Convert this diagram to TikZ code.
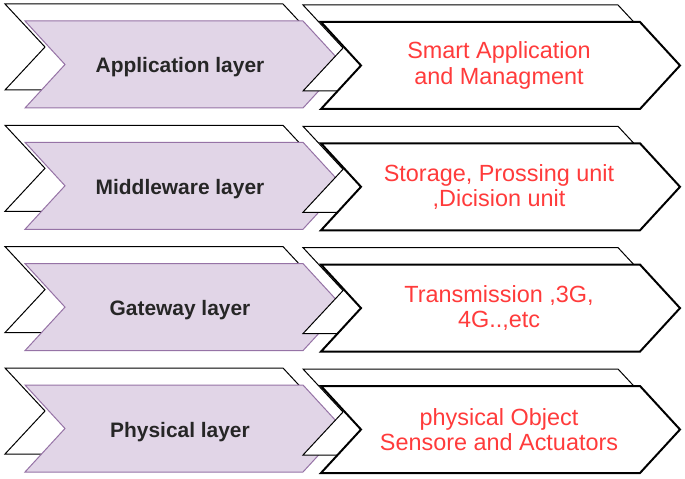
\documentclass[tikz,border=0pt]{standalone}
\usepackage{fontspec}
\setmainfont{Liberation Sans}
\definecolor{pfill}{HTML}{E1D5E7}
\definecolor{pdraw}{HTML}{9673A6}
\definecolor{rtext}{HTML}{FF3B3B}
\definecolor{ltext}{HTML}{262626}
\tikzset{
  backchev/.style={draw=black, line width=1bp, fill=white},
  purplechev/.style={draw=pdraw, line width=1bp, fill=pfill},
  frontchev/.style={draw=black, line width=2bp, fill=white},
  layertext/.style={font=\bfseries\fontsize{21}{25}\selectfont, text=ltext, anchor=base, inner sep=0pt},
  desctext/.style={font=\fontsize{23.5}{25.5}\selectfont, text=rtext, align=center, inner sep=0pt}
}
\newcommand\layerrow[4]{%
  \draw[backchev] (5,{#2+4}) -- (283,{#2+4}) -- (323,{#2+47}) -- (283,{#2+90}) -- (5,{#2+90}) -- (45,{#2+47}) -- cycle;
  \draw[purplechev] (25,{#2+21}) -- (303,{#2+21}) -- (343,{#2+64.5}) -- (303,{#2+108}) -- (25,{#2+108}) -- (65,{#2+64.5}) -- cycle;
  \draw[backchev] (303,{#2+5}) -- (618,{#2+5}) -- (658,{#2+48}) -- (618,{#2+91}) -- (303,{#2+91}) -- (343,{#2+48}) -- cycle;
  \draw[frontchev] (321,{#2+22}) -- (640,{#2+22}) -- (680,{#2+65.5}) -- (640,{#2+109}) -- (321,{#2+109}) -- (361,{#2+65.5}) -- cycle;
  \node[layertext] (L#1) at (180,{#2+73}) {#3};
  \node[desctext] (R#1) at (499,{#2+65.5}) {#4};
}
\begin{document}
\begin{tikzpicture}[x=1bp,y=-1bp]
  \useasboundingbox (0,0) rectangle (685,479);
  \layerrow{1}{0}{Application layer}{Smart Application\\and Managment}
  \layerrow{2}{121.3}{Middleware layer}{Storage, Prossing unit\\,Dicision unit}
  \layerrow{3}{242.6}{Gateway layer}{Transmission ,3G,\\4G..,etc}
  \layerrow{4}{364}{Physical layer}{physical Object\\Sensore and Actuators}
\end{tikzpicture}
\end{document}
